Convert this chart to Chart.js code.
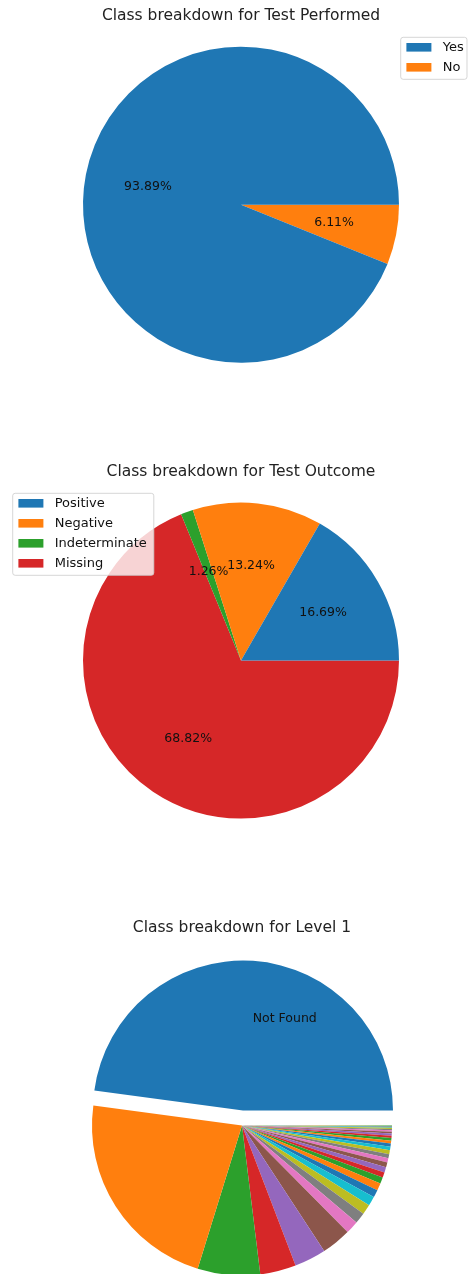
<!DOCTYPE html>
<html>
<head>
<meta charset="utf-8">
<script src="https://cdn.jsdelivr.net/npm/chart.js@4.4.0/dist/chart.umd.min.js"></script>
<style>
  html, body { margin: 0; padding: 0; background: #fff; overflow: hidden; }
  canvas { position: absolute; left: 0; }
</style>
</head>
<body>
<canvas id="performedChart" width="468" height="420" style="top:0px"></canvas>
<canvas id="outcomeChart" width="468" height="420" style="top:440px"></canvas>
<canvas id="levelChart" width="468" height="480" style="top:880px"></canvas>
<script>
const TAB10 = ['#1f77b4', '#ff7f0e', '#2ca02c', '#d62728', '#9467bd',
               '#8c564b', '#e377c2', '#7f7f7f', '#bcbd22', '#17becf'];

// Test Performed
const performedLabels = ['Yes', 'No'];
const performedValues = [93.89, 6.11];

// Test Outcome
const outcomeLabels = ['Positive', 'Negative', 'Indeterminate', 'Missing'];
const outcomeValues = [16.69, 13.24, 1.26, 68.82];

// Level 1 (share in %), only the biggest class gets a name on the pie
const levelNames = ['Not Found'];
const levelValues = [47.86, 22.36, 6.72, 3.86, 3.42, 3.19, 1.39, 1.19, 1.08, 1.00,
                     0.83, 0.78, 0.67, 0.58, 0.56, 0.53, 0.47, 0.44, 0.42, 0.39,
                     0.33, 0.31, 0.28, 0.25, 0.22, 0.19, 0.17, 0.14, 0.11, 0.08,
                     0.07, 0.06, 0.04];
const levelExplode = [0.1];

const FONT = '"DejaVu Sans", "Liberation Sans", sans-serif';

// chart.js draws clockwise, so slices go in reversed and start at 3 o'clock
const rev = arr => arr.slice().reverse();
const colorsFor = n => Array.from({ length: n }, (_, i) => TAB10[i % 10]);

// pushes slices out from the centre, fraction of the radius
const explode = {
    id: 'explode',
    afterDatasetUpdate(chart, args, opts) {
        const amounts = opts.amounts || [];
        args.meta.data.forEach((arc, i) => {
            const f = amounts[i] || 0;
            if (!f) return;
            const mid = (arc.startAngle + arc.endAngle) / 2;
            arc.x += Math.cos(mid) * f * arc.outerRadius;
            arc.y += Math.sin(mid) * f * arc.outerRadius;
        });
    }
};

// text inside the slices (percentages or names)
const pieText = {
    id: 'pieText',
    afterDatasetsDraw(chart, args, opts) {
        if (!opts.texts) return;
        const ctx = chart.ctx;
        const meta = chart.getDatasetMeta(0);
        ctx.save();
        ctx.font = opts.size + 'px ' + FONT;
        ctx.fillStyle = '#111';
        ctx.textAlign = 'center';
        ctx.textBaseline = 'middle';
        meta.data.forEach((arc, i) => {
            const text = opts.texts[i];
            if (!text) return;
            const frac = opts.angleFrac ? opts.angleFrac : 0.5;
            const a = arc.endAngle - frac * (arc.endAngle - arc.startAngle);
            const r = arc.outerRadius * opts.distance;
            ctx.fillText(text, arc.x + Math.cos(a) * r, arc.y + Math.sin(a) * r);
        });
        ctx.restore();
    }
};

// boxed legend laid over the plot
const boxLegend = {
    id: 'boxLegend',
    afterDraw(chart, args, opts) {
        if (!opts.labels) return;
        const ctx = chart.ctx;
        ctx.save();
        ctx.font = '13px ' + FONT;
        const textW = Math.max(...opts.labels.map(l => ctx.measureText(l).width));
        const left = opts.left, top = opts.top;
        const w = Math.min(42 + textW + 7, chart.width - 1 - left);
        const h = 20 * opts.labels.length + 2;
        ctx.beginPath();
        ctx.roundRect(left, top, w, h, 2.5);
        ctx.fillStyle = 'rgba(255,255,255,0.8)';
        ctx.fill();
        ctx.strokeStyle = 'rgba(204,204,204,0.8)';
        ctx.lineWidth = 1;
        ctx.stroke();
        ctx.textBaseline = 'middle';
        opts.labels.forEach((label, i) => {
            const cy = top + 10 + 20 * i;
            ctx.fillStyle = opts.colors[i];
            ctx.fillRect(left + 5.7, cy - 4.3, 25, 8.6);
            ctx.fillStyle = '#111';
            ctx.fillText(label, left + 42, cy + 0.5);
        });
        ctx.restore();
    }
};

function titleOpts(text) {
    return {
        display: true,
        text: text,
        color: '#222',
        font: { family: FONT, size: 15.5, weight: 'normal', lineHeight: 1.2 },
        padding: 0
    };
}

const common = {
    responsive: false,
    animation: false,
    events: [],
    rotation: 90
};

// Test Performed
new Chart(document.getElementById('performedChart'), {
    type: 'pie',
    data: {
        labels: rev(performedLabels),
        datasets: [{
            data: rev(performedValues),
            backgroundColor: rev(colorsFor(performedValues.length)),
            borderWidth: 0
        }]
    },
    options: Object.assign({}, common, {
        radius: 158,
        layout: { padding: { top: 6.7, bottom: 35.9, left: 14, right: 0 } },
        plugins: {
            title: titleOpts('Class breakdown for Test Performed'),
            legend: { display: false },
            tooltip: { enabled: false },
            pieText: { texts: rev(performedValues).map(v => v.toFixed(2) + '%'), size: 12.5, distance: 0.6 },
            boxLegend: { labels: performedLabels, colors: colorsFor(performedValues.length), left: 400.7, top: 37.3 }
        }
    }),
    plugins: [pieText, boxLegend]
});

// Test Outcome
new Chart(document.getElementById('outcomeChart'), {
    type: 'pie',
    data: {
        labels: rev(outcomeLabels),
        datasets: [{
            data: rev(outcomeValues),
            backgroundColor: rev(colorsFor(outcomeValues.length)),
            borderWidth: 0
        }]
    },
    options: Object.assign({}, common, {
        radius: 158,
        layout: { padding: { top: 23, bottom: 20.6, left: 14, right: 0 } },
        plugins: {
            title: titleOpts('Class breakdown for Test Outcome'),
            legend: { display: false },
            tooltip: { enabled: false },
            pieText: { texts: rev(outcomeValues).map(v => v.toFixed(2) + '%'), size: 12.5, distance: 0.6 },
            boxLegend: { labels: outcomeLabels, colors: colorsFor(outcomeValues.length), left: 12.7, top: 53.3 }
        }
    }),
    plugins: [pieText, boxLegend]
});

// Level 1
new Chart(document.getElementById('levelChart'), {
    type: 'pie',
    data: {
        labels: rev(levelValues.map((v, i) => levelNames[i] || '')),
        datasets: [{
            data: rev(levelValues),
            backgroundColor: rev(colorsFor(levelValues.length)),
            borderWidth: 0
        }]
    },
    options: Object.assign({}, common, {
        radius: 150,
        layout: { padding: { top: 39, bottom: 46.6, left: 16, right: 0 } },
        plugins: {
            title: titleOpts('Class breakdown for Level 1'),
            legend: { display: false },
            tooltip: { enabled: false },
            explode: { amounts: rev(levelValues.map((v, i) => levelExplode[i] || 0)) },
            pieText: { texts: rev(levelValues.map((v, i) => levelNames[i] || '')), size: 12.5, distance: 0.67, angleFrac: 0.38 }
        }
    }),
    plugins: [explode, pieText]
});
</script>
</body>
</html>
